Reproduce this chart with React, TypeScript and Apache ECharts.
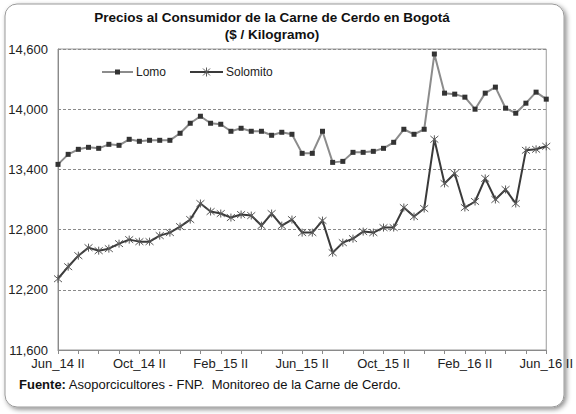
import React, { useEffect, useRef } from "react";
import * as echarts from "echarts";

const categories = [
  "Jun_14 II", "Jul_14 I", "Jul_14 II", "Ago_14 I", "Ago_14 II", "Sep_14 I", "Sep_14 II", "Oct_14 I",
  "Oct_14 II", "Nov_14 I", "Nov_14 II", "Dic_14 I", "Dic_14 II", "Ene_15 I", "Ene_15 II", "Feb_15 I",
  "Feb_15 II", "Mar_15 I", "Mar_15 II", "Abr_15 I", "Abr_15 II", "May_15 I", "May_15 II", "Jun_15 I",
  "Jun_15 II", "Jul_15 I", "Jul_15 II", "Ago_15 I", "Ago_15 II", "Sep_15 I", "Sep_15 II", "Oct_15 I",
  "Oct_15 II", "Nov_15 I", "Nov_15 II", "Dic_15 I", "Dic_15 II", "Ene_16 I", "Ene_16 II", "Feb_16 I",
  "Feb_16 II", "Mar_16 I", "Mar_16 II", "Abr_16 I", "Abr_16 II", "May_16 I", "May_16 II", "Jun_16 I",
  "Jun_16 II",
];

const lomo = [
  13450, 13550, 13600, 13620, 13610, 13650, 13640, 13700, 13680, 13690,
  13690, 13690, 13760, 13860, 13930, 13860, 13850, 13780, 13810, 13780,
  13780, 13740, 13770, 13750, 13560, 13560, 13780, 13470, 13480, 13570,
  13570, 13580, 13610, 13670, 13800, 13750, 13800, 14550, 14160, 14150,
  14120, 14000, 14160, 14220, 14010, 13960, 14060, 14170, 14100,
];

const solomito = [
  12310, 12430, 12540, 12620, 12590, 12610, 12660, 12700, 12680, 12680,
  12740, 12770, 12830, 12900, 13060, 12980, 12960, 12920, 12950, 12940,
  12840, 12960, 12840, 12900, 12770, 12770, 12890, 12570, 12670, 12710,
  12780, 12770, 12820, 12820, 13020, 12930, 13010, 13700, 13260, 13360,
  13020, 13080, 13310, 13100, 13200, 13060, 13590, 13600, 13630,
];

const yMin = 11600;
const yMax = 14600;
const yStep = 600;

const seriesNames = ["Lomo", "Solomito"];
const titleLine1 = "Precios al Consumidor de la Carne de Cerdo en Bogotá";
const titleLine2 = "($ / Kilogramo)";
const sourceBold = "Fuente:";
const sourceText = " Asoporcicultores - FNP.  Monitoreo de la Carne de Cerdo.";

const FONT = "'Liberation Sans', Arial, sans-serif";
const STAR = "path://M0,0L10,10M10,0L0,10M5,-1L5,11";
const LOMO_LINE = "#8c8c8c";
const LOMO_MARK = "#333333";
const SOLO_LINE = "#3a3a3a";
const SOLO_MARK = "#5a5a5a";

export default function App() {
  const ref = useRef<HTMLDivElement>(null);
  useEffect(() => {
    if (!ref.current) return;
    const chart = echarts.init(ref.current, null, { renderer: "svg" });
    const ly = 72;
    const starLines = (cx: number, cy: number, r: number) => [
      { type: "line", shape: { x1: cx - r, y1: cy - r, x2: cx + r, y2: cy + r }, style: { stroke: SOLO_MARK, lineWidth: 1 }, z: 20 },
      { type: "line", shape: { x1: cx + r, y1: cy - r, x2: cx - r, y2: cy + r }, style: { stroke: SOLO_MARK, lineWidth: 1 }, z: 20 },
      { type: "line", shape: { x1: cx, y1: cy - r - 1, x2: cx, y2: cy + r + 1 }, style: { stroke: SOLO_MARK, lineWidth: 1 }, z: 20 },
    ];
    chart.setOption({
      animation: false,
      backgroundColor: "#ffffff",
      textStyle: { fontFamily: FONT },
      graphic: [
        {
          type: "rect",
          shape: { x: 5, y: 4, width: 559, height: 403, r: 12 },
          style: {
            fill: "#ffffff",
            stroke: "#9a9a9a",
            lineWidth: 1,
            shadowBlur: 5,
            shadowOffsetX: 2,
            shadowOffsetY: 2,
            shadowColor: "rgba(0,0,0,0.45)",
          },
          z: -10,
        },
        {
          type: "text",
          x: 272,
          y: 10,
          style: {
            text: titleLine1,
            font: `bold 13.5px ${FONT}`,
            fill: "#111",
            textAlign: "center",
          },
        },
        {
          type: "text",
          x: 272,
          y: 27,
          style: {
            text: titleLine2,
            font: `bold 13.5px ${FONT}`,
            fill: "#111",
            textAlign: "center",
          },
        },
        {
          type: "text",
          x: 19,
          y: 378,
          style: {
            text: `{b|${sourceBold}}{n|${sourceText}}`,
            rich: {
              b: { font: `bold 13px ${FONT}`, fill: "#111" },
              n: { font: `13px ${FONT}`, fill: "#111" },
            },
          },
        },
        // legend: Lomo
        { type: "line", shape: { x1: 102, y1: ly, x2: 133, y2: ly }, style: { stroke: LOMO_LINE, lineWidth: 2 }, z: 20 },
        { type: "rect", shape: { x: 115, y: ly - 2.5, width: 5, height: 5 }, style: { fill: LOMO_MARK }, z: 21 },
        {
          type: "text", x: 136, y: ly, z: 20,
          style: { text: seriesNames[0], font: `12px ${FONT}`, fill: "#222", textVerticalAlign: "middle" },
        },
        // legend: Solomito
        { type: "line", shape: { x1: 190, y1: ly, x2: 223, y2: ly }, style: { stroke: SOLO_LINE, lineWidth: 2 }, z: 20 },
        ...starLines(206.5, ly, 3.5),
        {
          type: "text", x: 226, y: ly, z: 20,
          style: { text: seriesNames[1], font: `12px ${FONT}`, fill: "#222", textVerticalAlign: "middle" },
        },
      ],
      grid: {
        left: 58,
        right: 29,
        top: 49,
        bottom: 64,
        show: true,
        borderColor: "#9a9a9a",
        borderWidth: 1,
      },
      xAxis: {
        type: "category",
        data: categories,
        boundaryGap: false,
        axisLine: { lineStyle: { color: "#8a8a8a", width: 1 } },
        axisTick: { interval: 1, length: 4, lineStyle: { color: "#8a8a8a" } },
        axisLabel: {
          interval: 7,
          fontFamily: FONT,
          fontSize: 13,
          color: "#222",
          margin: 7,
        },
        splitLine: { show: false },
      },
      yAxis: {
        type: "value",
        min: yMin,
        max: yMax,
        interval: yStep,
        axisLine: { show: true, lineStyle: { color: "#8a8a8a", width: 1 } },
        axisTick: { show: false },
        axisLabel: {
          fontFamily: FONT,
          fontSize: 13,
          color: "#222",
          margin: 10,
          formatter: (v: number) => v.toLocaleString("en-US"),
        },
        splitLine: {
          show: true,
          lineStyle: { color: "#8a8a8a", type: [3, 2], width: 1 },
        },
      },
      series: [
        {
          name: seriesNames[0],
          type: "line",
          data: lomo,
          symbol: "rect",
          symbolSize: 5,
          showAllSymbol: true,
          lineStyle: { color: LOMO_LINE, width: 2 },
          itemStyle: { color: LOMO_MARK, borderColor: LOMO_MARK, borderWidth: 0 },
          z: 3,
        },
        {
          name: seriesNames[1],
          type: "line",
          data: solomito,
          symbol: STAR,
          symbolSize: 8,
          showAllSymbol: true,
          lineStyle: { color: SOLO_LINE, width: 2 },
          itemStyle: { color: SOLO_MARK, borderColor: SOLO_MARK, borderWidth: 1 },
          z: 2,
        },
      ],
    });
    return () => chart.dispose();
  }, []);
  return (
    <div
      ref={ref}
      style={{ position: "fixed", left: 0, top: 0, width: 576, height: 414 }}
    />
  );
}
